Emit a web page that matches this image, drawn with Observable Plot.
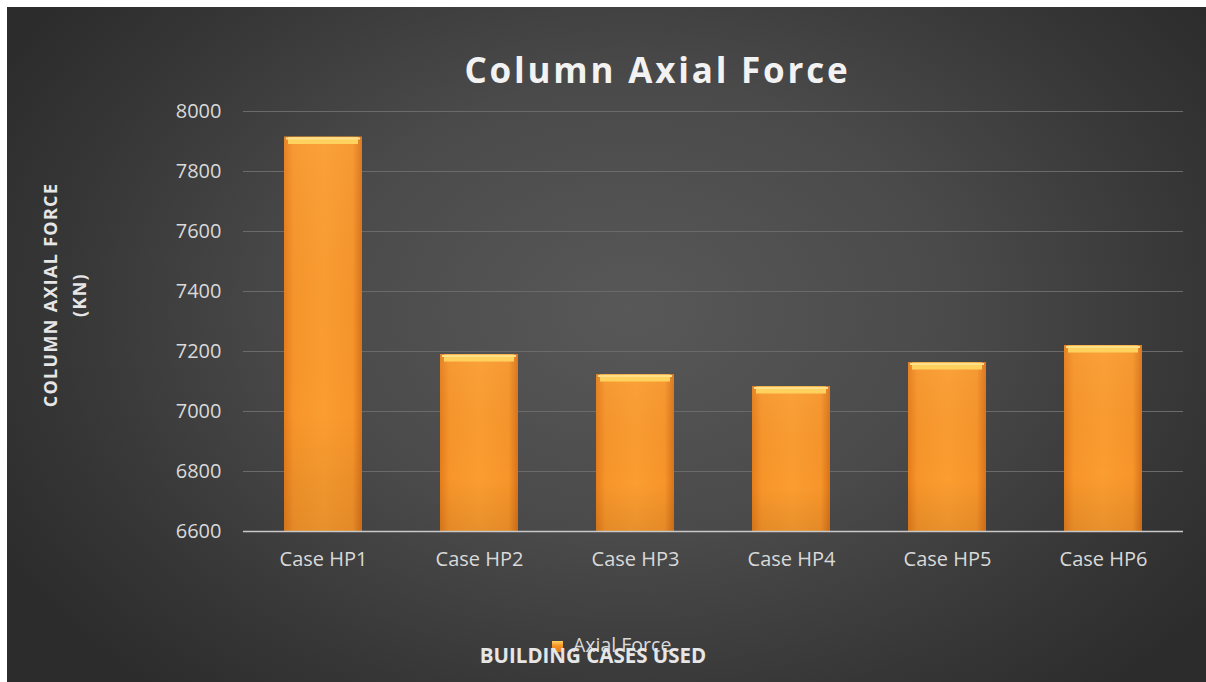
<!DOCTYPE html>
<html>
<head>
<meta charset="utf-8">
<script src="https://cdn.jsdelivr.net/npm/d3@7"></script>
<script src="https://cdn.jsdelivr.net/npm/@observablehq/plot@0.6"></script>
<style>
  html, body { margin: 0; padding: 0; background: #fff; }
  #wrap { position: relative; width: 1206px; height: 682px; overflow: hidden; background: #fff; }
  #bg { position: absolute; left: 7px; top: 7px; width: 1199px; height: 675px;
        background: radial-gradient(ellipse 60% 75% at 52% 45%, #585858 0%, #4a4a4a 45%, #363636 80%, #2c2c2c 100%); }
  #chart { position: absolute; left: 0; top: 0; }
  .t { position: absolute; font-family: "Open Sans", sans-serif; white-space: nowrap; }
  #title { left: 0; width: 1315px; top: 46px; text-align: center; font-size: 35px; font-weight: 700; color: #f2f2f2; letter-spacing: 2.8px; }
  #ylab { left: 65px; top: 295px; transform: translate(-50%, -50%) rotate(-90deg); text-align: center; font-size: 18px; font-weight: 700; color: #e6e6e6; line-height: 29px; letter-spacing: 1.3px; }
  #xlab { left: 593px; top: 641px; transform: translateX(-50%); font-size: 20.5px; font-weight: 700; color: #e6e6e6; }
  #leg { left: 552px; top: 631px; font-size: 19.5px; color: #d9d9d9; }
  #leg span.sw { display: inline-block; width: 11px; height: 11px; background: linear-gradient(#ffd060, #f39424 45%, #e07a18); margin-right: 10px; vertical-align: 0px; }
</style>
</head>
<body>
<div id="wrap">
  <div id="bg"></div>
  <div id="chart"></div>
  <div class="t" id="title">Column Axial Force</div>
  <div class="t" id="ylab">COLUMN AXIAL FORCE<br>(KN)</div>
  <div class="t" id="leg"><span class="sw"></span>Axial Force</div>
  <div class="t" id="xlab">BUILDING CASES USED</div>
</div>
<script>
const categories = ["Case HP1", "Case HP2", "Case HP3", "Case HP4", "Case HP5", "Case HP6"];
const axialForce = [7915, 7190, 7123, 7083, 7163, 7220];
const yTicks = [6600, 6800, 7000, 7200, 7400, 7600, 7800, 8000];
const seriesName = "Axial Force";

const data = categories.map((c, i) => ({case: c, value: axialForce[i]}));

const plot = Plot.plot({
  width: 1206,
  height: 682,
  marginLeft: 243,
  marginRight: 23,
  marginTop: 111,
  marginBottom: 151,
  style: {background: "transparent", fontFamily: "'Open Sans', sans-serif", fontSize: "20px", color: "#d9d9d9", overflow: "visible"},
  x: {domain: categories, paddingInner: 0.5, paddingOuter: 0.25, label: null, tickSize: 0, tickPadding: 20},
  y: {domain: [6600, 8000], ticks: yTicks, tickFormat: "d", label: null, tickSize: 0, tickPadding: 22},
  marks: [
    Plot.gridY(yTicks.filter(d => d > 6600), {stroke: "#6a6a6a", strokeOpacity: 1, strokeWidth: 1.2}),
    Plot.barY(data, {x: "case", y1: 6600, y2: "value", fill: "url(#barGrad)", style: "filter: drop-shadow(3px 2px 3px rgba(0,0,0,0.55))"}),
    Plot.barY(data, {x: "case", y1: 6600, y2: "value", fill: "url(#barShade)"}),
    Plot.tickY(data, {x: "case", y: "value", stroke: "#ffd260", strokeWidth: 7, dy: 3.5, inset: 4}),
    Plot.tickY(data, {x: "case", y: "value", stroke: "#ffe08a", strokeWidth: 2, dy: 1.5, inset: 2}),
    Plot.ruleY([6600], {stroke: "#c8c8c8", strokeWidth: 1.5})
  ]
});

// gradients for the bars
const ns = "http://www.w3.org/2000/svg";
const defs = document.createElementNS(ns, "defs");
defs.innerHTML = `
  <linearGradient id="barGrad" x1="0" x2="1" y1="0" y2="0">
    <stop offset="0" stop-color="#e57d1b"/>
    <stop offset="0.12" stop-color="#f7952a"/>
    <stop offset="0.5" stop-color="#fb9d30"/>
    <stop offset="0.88" stop-color="#f7952a"/>
    <stop offset="1" stop-color="#d9731a"/>
  </linearGradient>
  <linearGradient id="barShade" x1="0" x2="0" y1="0" y2="1">
    <stop offset="0" stop-color="#ffffff" stop-opacity="0.05"/>
    <stop offset="0.7" stop-color="#000000" stop-opacity="0"/>
    <stop offset="1" stop-color="#000000" stop-opacity="0.08"/>
  </linearGradient>`;
plot.insertBefore(defs, plot.firstChild);
plot.querySelectorAll("[aria-label='y-axis tick label'] text, [aria-label='x-axis tick label'] text").forEach(t => t.setAttribute("fill", "#d9d9d9"));
document.getElementById("chart").appendChild(plot);
</script>
</body>
</html>
